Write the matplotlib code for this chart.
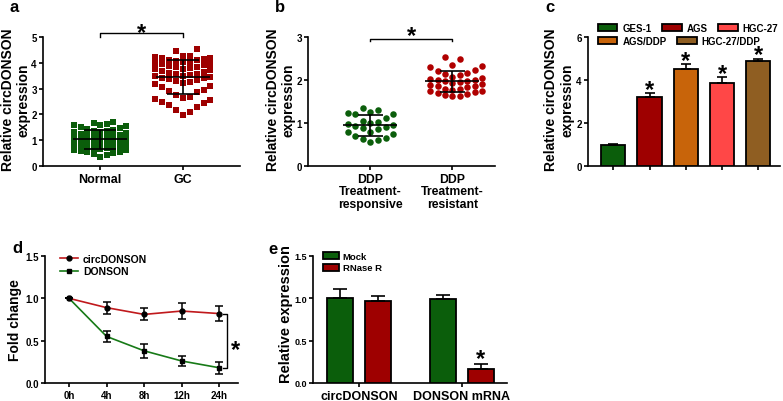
import numpy as np
import matplotlib
matplotlib.use("Agg")
import matplotlib.pyplot as plt

plt.rcParams['font.family'] = ['Liberation Sans', 'DejaVu Sans']
plt.rcParams['font.weight'] = 'bold'
plt.rcParams['axes.labelweight'] = 'bold'
plt.rcParams['axes.linewidth'] = 1.2

# ---- data ----
# a: circDONSON in normal vs GC tissue
normal_vals = [1.72, 1.65, 1.62, 1.6, 1.58, 1.55, 1.5, 1.47, 1.44, 1.4, 1.37, 1.35, 1.32,
               1.3, 1.28, 1.25, 1.22, 1.2, 1.17, 1.15, 1.12, 1.1, 1.08, 1.05, 1.03, 1.0,
               0.98, 0.96, 0.93, 0.9, 0.88, 0.85, 0.83, 0.8, 0.78, 0.75, 0.72, 0.7, 0.68,
               0.66, 0.63, 0.61, 0.58, 0.56, 0.53, 0.5, 0.47, 0.42, 0.36]
gc_vals = [4.55, 4.45, 4.28, 4.25, 4.22, 4.2, 4.18, 4.15, 4.12, 4.1, 4.08, 4.05, 4.02, 4.0,
           3.97, 3.94, 3.9, 3.87, 3.85, 3.82, 3.8, 3.77, 3.75, 3.72, 3.7, 3.66, 3.62, 3.58,
           3.55, 3.52, 3.5, 3.48, 3.45, 3.42, 3.4, 3.37, 3.32, 3.28, 3.24, 3.2, 3.17, 3.12,
           3.06, 2.95, 2.9, 2.85, 2.75, 2.68, 2.62, 2.58, 2.55, 2.5, 2.45, 2.35, 2.28,
           2.18, 2.08, 1.98]
a_labels = ['Normal', 'GC']

# b: DDP responsive vs resistant
resp_vals = [1.35, 1.3, 1.25, 1.24, 1.22, 1.2, 1.12, 1.05, 1.03, 1.0, 0.98, 0.96, 0.93,
             0.9, 0.88, 0.85, 0.8, 0.78, 0.75, 0.7, 0.65, 0.62, 0.6, 0.55]
resi_vals = [2.53, 2.48, 2.36, 2.33, 2.3, 2.24, 2.2, 2.17, 2.15, 2.12, 2.08, 2.05, 2.02,
             2.0, 1.99, 1.98, 1.97, 1.95, 1.93, 1.9, 1.88, 1.86, 1.85, 1.83, 1.8, 1.78,
             1.77, 1.75, 1.74, 1.72, 1.7, 1.68, 1.66, 1.63, 1.62]
b_labels = ['DDP\nTreatment-\nresponsive', 'DDP\nTreatment-\nresistant']

# c: cell lines
c_names = ['GES-1', 'AGS', 'AGS/DDP', 'HGC-27', 'HGC-27/DDP']
c_means = [1.0, 3.2, 4.52, 3.88, 4.9]
c_err = [0.03, 0.18, 0.22, 0.25, 0.1]
c_colors = ['#0b5e0b', '#9e0000', '#c8640a', '#ff4747', '#8f5e22']

# d: time course
d_times = ['0h', '4h', '8h', '12h', '24h']
d_circ = [1.0, 0.89, 0.81, 0.85, 0.82]
d_circ_err = [0.0, 0.07, 0.07, 0.09, 0.09]
d_lin = [1.0, 0.55, 0.38, 0.26, 0.18]
d_lin_err = [0.0, 0.07, 0.08, 0.06, 0.07]

# e: RNase R
e_groups = ['circDONSON', 'DONSON mRNA']
e_mock = [1.0, 0.99]
e_mock_err = [0.11, 0.05]
e_rnase = [0.97, 0.17]
e_rnase_err = [0.06, 0.06]

GREEN = '#0b5e0b'
RED = '#9e0000'
STAR = 17

W, H = 783, 402
fig = plt.figure(figsize=(W / 100, H / 100), dpi=100)


def ax_px(l, r, t, b):
    return fig.add_axes([l / W, 1 - b / H, (r - l) / W, (b - t) / H])


def style(ax, xsize=9, ysize=7):
    for s in ['top', 'right']:
        ax.spines[s].set_visible(False)
    ax.tick_params(axis='y', labelsize=ysize, width=1.2, length=3, pad=1.5)
    ax.tick_params(axis='x', labelsize=xsize, width=1.2, length=3, pad=2)


def ylab(ax, text, x, size=10, y=0.5):
    ax.set_ylabel(text, fontsize=size, linespacing=1.15)
    ax.yaxis.label.set_va('center')
    ax.yaxis.set_label_coords(x, y)


def star(ax, x, y):
    ax.annotate('*', (x, y), xytext=(0, -0.58 * STAR), textcoords='offset points',
                ha='center', va='baseline', fontsize=STAR, annotation_clip=False)


def rows_layout(vals, xc, xscale, n, step):
    # GraphPad-like: sorted values in rows of n, lowest in the middle of each row
    vals = np.asarray(vals, float)
    order = np.argsort(vals)
    xs = np.zeros(len(vals))
    for r in range(0, len(vals), n):
        for j, i in enumerate(order[r:r + n]):
            k = (j + 1) // 2
            sign = 1 if j % 2 else -1
            xs[i] = xc + sign * k * step / xscale
    return xs


def mean_sd(ax, x, vals, wm, ws):
    m, s = np.mean(vals), np.std(vals, ddof=1)
    kw = dict(color='black', lw=1.2, zorder=5, solid_capstyle='butt')
    ax.plot([x - wm, x + wm], [m, m], **kw)
    ax.plot([x, x], [m - s, m + s], **kw)
    for v in (m - s, m + s):
        ax.plot([x - ws, x + ws], [v, v], **kw)


# ---- a ----
ax = ax_px(43, 240, 38, 167)
style(ax)
xs = rows_layout(normal_vals, 0, 83, 9, 6.5)
ax.scatter(xs, normal_vals, marker='s', s=17, color=GREEN, zorder=3, lw=0)
xs = rows_layout(gc_vals, 1, 83, 9, 6.9)
ax.scatter(xs, gc_vals, marker='s', s=17, color=RED, zorder=3, lw=0)
mean_sd(ax, 0, normal_vals, 0.33, 0.19)
mean_sd(ax, 1, gc_vals, 0.33, 0.19)
ax.set_xlim(-0.69, 1.69)
ax.set_ylim(0, 5)
ax.set_yticks([0, 1, 2, 3, 4, 5])
ax.set_xticks([0, 1])
ax.set_xticklabels(a_labels)
ylab(ax, 'Relative circDONSON\nexpression', -0.14, y=0.52)
ax.plot([0, 0, 1, 1], [5.0, 5.16, 5.16, 5.0], color='black', lw=1, clip_on=False)
star(ax, 0.5, 5.47)
fig.text(10 / W, 1 - 8 / H, 'a', fontsize=12, va='center')

# ---- b ----
ax = ax_px(308, 495, 38, 167)
style(ax)
xs = rows_layout(resp_vals, 0, 82, 7, 7.6)
ax.scatter(xs, resp_vals, marker='o', s=22, color=GREEN, zorder=3, lw=0)
xs = rows_layout(resi_vals, 1, 82, 8, 7.4)
ax.scatter(xs, resi_vals, marker='o', s=22, color='#b00000', zorder=3, lw=0)
mean_sd(ax, 0, resp_vals, 0.33, 0.15)
mean_sd(ax, 1, resi_vals, 0.33, 0.15)
ax.set_xlim(-0.76, 1.52)
ax.set_ylim(0, 3)
ax.set_yticks([0, 1, 2, 3])
ax.set_xticks([0, 1])
ax.set_xticklabels(b_labels, linespacing=1.05, fontsize=8.8)
ylab(ax, 'Relative circDONSON\nexpression', -0.147, y=0.52)
ax.plot([0, 0, 1, 1], [2.9, 2.96, 2.96, 2.9], color='black', lw=1, clip_on=False)
star(ax, 0.5, 3.21)
fig.text(275 / W, 1 - 8 / H, 'b', fontsize=12, va='center')

# ---- c ----
ax = ax_px(588, 780, 38, 167)
style(ax)
xc = np.arange(len(c_names))
bars = ax.bar(xc, c_means, width=0.67, color=c_colors, edgecolor='black', lw=1.3,
              yerr=[np.zeros(len(c_err)), c_err], capsize=3.6,
              error_kw=dict(lw=1.2, capthick=1.2, ecolor='black'), zorder=3)
for i in range(1, len(c_names)):
    star(ax, xc[i], c_means[i] + c_err[i] + 0.52)
ax.set_xlim(-0.7, 4.6)
ax.set_ylim(0, 6)
ax.set_yticks([0, 2, 4, 6])
ax.set_xticks(xc)
ax.set_xticklabels([''] * len(c_names))
ylab(ax, 'Relative circDONSON\nexpression', -0.15, y=0.52)
leg_kw = dict(frameon=False, fontsize=7, loc='center left', borderpad=0, borderaxespad=0,
              handlelength=2.0, handleheight=0.65, handletextpad=0.5,
              bbox_transform=fig.transFigure)
row1 = [0, 1, 3]
row2 = [2, 4]
l1 = ax.legend([bars[i] for i in row1], [c_names[i] for i in row1], ncol=3,
               columnspacing=1.1, bbox_to_anchor=(598 / W, 1 - 29 / H), **leg_kw)
ax.add_artist(l1)
ax.legend([bars[i] for i in row2], [c_names[i] for i in row2], ncol=2,
          columnspacing=1.1, bbox_to_anchor=(598 / W, 1 - 42 / H), **leg_kw)
fig.text(545 / W, 1 - 8 / H, 'c', fontsize=12, va='center')

# ---- d ----
ax = ax_px(45, 238, 257, 384)
style(ax, xsize=7, ysize=7)
xt = np.arange(len(d_times))
ax.errorbar(xt, d_circ, yerr=d_circ_err, fmt='none', ecolor='black', elinewidth=1.1,
            capsize=3, capthick=1.1, zorder=4)
ax.errorbar(xt, d_lin, yerr=d_lin_err, fmt='none', ecolor='black', elinewidth=1.1,
            capsize=3, capthick=1.1, zorder=4)
ax.plot(xt, d_circ, color='#c0191c', lw=1.2, marker='o', ms=3.5, mfc='black', mec='black',
        label='circDONSON', zorder=3)
ax.plot(xt, d_lin, color='#177a17', lw=1.2, marker='s', ms=3.5, mfc='black', mec='black',
        label='DONSON', zorder=3)
ax.set_xlim(-0.64, 4.5)
ax.set_ylim(0, 1.5)
ax.set_yticks([0, 0.5, 1.0, 1.5])
ax.set_yticklabels(['0.0', '0.5', '1.0', '1.5'])
ax.set_xticks(xt)
ax.set_xticklabels(d_times)
ylab(ax, 'Fold change', -0.155)
ax.legend(loc='center left', bbox_to_anchor=(60 / W, 1 - 266 / H),
          bbox_transform=fig.transFigure, frameon=False, fontsize=7.5,
          handlelength=1.7, handletextpad=0.5, labelspacing=0.25, borderpad=0,
          borderaxespad=0)
ax.plot([4.1, 4.21, 4.21, 4.1], [d_circ[-1], d_circ[-1], d_lin[-1], d_lin[-1]],
        color='black', lw=1, clip_on=False)
star(ax, 4.43, 0.48)
fig.text(12 / W, 1 - 249 / H, 'd', fontsize=12, va='center')

# ---- e ----
ax = ax_px(313, 507, 257, 384)
style(ax, xsize=9, ysize=6.5)
xg = np.arange(len(e_groups))
off = 0.185
ax.bar(xg - off, e_mock, width=0.255, color=GREEN, edgecolor='black', lw=1.3,
       yerr=[np.zeros(2), e_mock_err], capsize=5,
       error_kw=dict(lw=1.2, capthick=1.2, ecolor='black'), label='Mock', zorder=3)
ax.bar(xg + off, e_rnase, width=0.255, color=RED, edgecolor='black', lw=1.3,
       yerr=[np.zeros(2), e_rnase_err], capsize=5,
       error_kw=dict(lw=1.2, capthick=1.2, ecolor='black'), label='RNase R', zorder=3)
star(ax, xg[1] + off, e_rnase[1] + e_rnase_err[1] + 0.14)
ax.set_xlim(-0.45, 1.44)
ax.set_ylim(0, 1.5)
ax.set_yticks([0, 0.5, 1.0, 1.5])
ax.set_yticklabels(['0.0', '0.5', '1.0', '1.5'])
ax.set_xticks(xg)
ax.set_xticklabels(e_groups)
ylab(ax, 'Relative expression', -0.14, size=10.5, y=0.55)
ax.legend(loc='center left', bbox_to_anchor=(323 / W, 1 - 263 / H),
          bbox_transform=fig.transFigure, frameon=False, fontsize=6.8,
          handlelength=1.7, handleheight=0.8, handletextpad=0.4, labelspacing=0.3,
          borderpad=0, borderaxespad=0)
fig.text(268 / W, 1 - 250 / H, 'e', fontsize=12, va='center')

fig.savefig('out.png', dpi=100)
